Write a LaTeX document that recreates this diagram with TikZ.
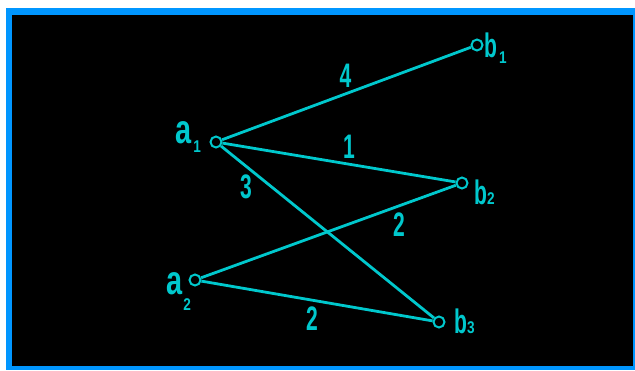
\documentclass[tikz,border=0pt]{standalone}
\usepackage{fontspec}
\setmainfont{Liberation Sans}
\definecolor{cadcyan}{RGB}{0,200,205}
\definecolor{frameblue}{RGB}{0,150,255}
\newcommand\tallch[1]{\scalebox{0.62}[1]{#1}}
\newcommand\lettera{\scalebox{0.85}[1.2]{a}}
\newcommand\subx[2]{\raisebox{#1}{\fontsize{17}{17}\selectfont\scalebox{0.8}[1]{#2}}}
\begin{document}
\begin{tikzpicture}[x=1pt,y=-1pt,
  vtx/.style={circle,draw=cadcyan,line width=2pt,minimum size=11pt,inner sep=0pt},
  edge/.style={draw=cadcyan,line width=2.8pt},
  lbl/.style={text=cadcyan,inner sep=0pt,font=\fontsize{34}{34}\selectfont\bfseries}]
\useasboundingbox (0,0) rectangle (635,370);
\fill[white] (0,0) rectangle (635,370);
\fill[frameblue] (6,8) rectangle (635,370);
\fill[black] (12,15) rectangle (633,366);
% vertices
\node[vtx] (a1) at (216,142) {};
\node[vtx] (a2) at (195,280) {};
\node[vtx] (b1) at (477,45) {};
\node[vtx] (b2) at (462,183) {};
\node[vtx] (b3) at (439,322) {};
% edges
\draw[edge] (a1) -- (b1);
\draw[edge] (a1) -- (b2);
\draw[edge] (a1) -- (b3);
\draw[edge] (a2) -- (b2);
\draw[edge] (a2) -- (b3);
% vertex labels
\node[lbl,anchor=base west] (ta1) at (175,143) {\lettera\hspace{2pt}\subx{-9pt}{1}};
\node[lbl,anchor=base west] (ta2) at (166,294) {\lettera\hspace{1pt}\subx{-16pt}{2}};
\node[lbl,anchor=base west] (tb1) at (484,57) {\tallch{b}\hspace{2pt}\subx{-6pt}{1}};
\node[lbl,anchor=base west] (tb2) at (474,204) {\tallch{b}\hspace{0pt}\subx{0pt}{2}};
\node[lbl,anchor=base west] (tb3) at (454,333) {\tallch{b}\hspace{0pt}\subx{0pt}{3}};
% edge weights
\node[lbl] (w1) at (345.5,75.5) {\tallch{4}};
\node[lbl] (w2) at (349,146.5) {\tallch{1}};
\node[lbl] (w3) at (246,186.5) {\tallch{3}};
\node[lbl] (w4) at (399,224.5) {\tallch{2}};
\node[lbl] (w5) at (312,319) {\tallch{2}};
\end{tikzpicture}
\end{document}
